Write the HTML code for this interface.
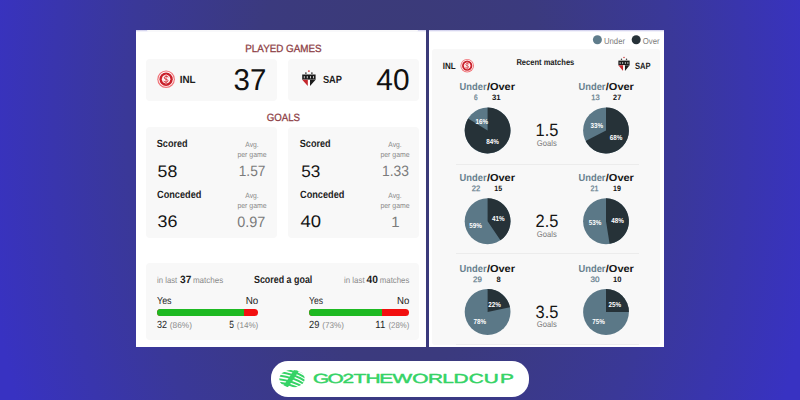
<!DOCTYPE html>
<html lang="en">
<head>
<meta charset="utf-8">
<title>Under/Over stats</title>
<style>
html,body{margin:0;padding:0}
body{width:800px;height:400px;overflow:hidden;position:relative;
 font-family:"Liberation Sans",sans-serif;
 background:radial-gradient(ellipse 420px 700px at 400px 120px,#3b3b76 0%,#3b3a7e 35%,#3a3898 65%,#3832c2 100%);}
.abs{position:absolute}
.panel{position:absolute;background:#fff}
.card{position:absolute;background:#f8f8f8;border-radius:4px}
.t{position:absolute;white-space:nowrap;line-height:1;transform-origin:0 50%;display:block}
.bar{position:absolute;height:7px;border-radius:3.5px;overflow:hidden;background:#f20f0f}
.bar i{display:block;height:100%;background:#1eb922}
.sep{position:absolute;height:1px;background:#ececec}
svg{position:absolute;left:0;top:0;overflow:visible}
</style>
</head>
<body>
<!-- left panel -->
<div class="panel" style="left:136px;top:30px;width:290px;height:317px"></div>
<div class="abs" style="left:136px;top:30px;width:290px;height:2px;background:linear-gradient(#c9c8ea,#fff)"></div>
<div class="card" style="left:147px;top:30px;width:271px;height:2px;border-radius:0 0 3px 3px;background:#f8f8fa"></div>
<div class="card" style="left:145.5px;top:59px;width:131px;height:41.5px"></div>
<div class="card" style="left:288.3px;top:59px;width:130.5px;height:41.5px"></div>
<div class="card" style="left:145.5px;top:127.3px;width:131px;height:110.5px"></div>
<div class="card" style="left:288.3px;top:127.3px;width:130.5px;height:110.5px"></div>
<div class="card" style="left:145.5px;top:263.4px;width:273.3px;height:76.4px"></div>
<div class="bar" style="left:157px;top:308.8px;width:101.3px"><i style="width:86.2%"></i></div>
<div class="bar" style="left:309px;top:308.8px;width:100.3px"><i style="width:72.6%"></i></div>

<!-- right panel -->
<div class="panel" style="left:429px;top:30px;width:235px;height:317px"></div>
<div class="abs" style="left:429px;top:30px;width:235px;height:2px;background:linear-gradient(#c9c8ea,#fff)"></div>
<div class="card" style="left:432.4px;top:48.8px;width:227.6px;height:296px;border-radius:3px;background:#f8f8f8"></div>
<div class="sep" style="left:456px;top:163.6px;width:183px"></div>
<div class="sep" style="left:456px;top:253.4px;width:183px"></div>
<div class="sep" style="left:456px;top:344px;width:183px"></div>

<!-- pill -->
<div class="abs" style="left:271px;top:361px;width:258px;height:36px;border-radius:17px;background:#fff"></div>

<svg width="800" height="400" viewBox="0 0 800 400">
 <!-- legend -->
 <circle cx="597.4" cy="39.8" r="4.5" fill="#5f7c8b"/>
 <circle cx="636.2" cy="39.8" r="4.5" fill="#263238"/>
 <circle cx="487.6" cy="130.5" r="22.9" fill="#5b7887"/><path d="M487.6 130.5L487.6 107.6A22.9 22.9 0 1 1 468.10 118.49Z" fill="#263238"/><circle cx="606.0" cy="130.5" r="22.9" fill="#5b7887"/><path d="M606.0 130.5L606.0 107.6A22.9 22.9 0 1 1 585.60 140.90Z" fill="#263238"/><circle cx="487.6" cy="221.25" r="22.9" fill="#5b7887"/><path d="M487.6 221.25L487.6 198.35A22.9 22.9 0 0 1 500.42 240.22Z" fill="#263238"/><circle cx="606.0" cy="221.25" r="22.9" fill="#5b7887"/><path d="M606.0 221.25L606.0 198.35A22.9 22.9 0 0 1 609.58 243.87Z" fill="#263238"/><circle cx="487.6" cy="312.0" r="22.9" fill="#5b7887"/><path d="M487.6 312.0L487.6 289.1A22.9 22.9 0 0 1 509.99 307.18Z" fill="#263238"/><circle cx="606.0" cy="312.0" r="22.9" fill="#5b7887"/><path d="M606.0 312.0L606.0 289.1A22.9 22.9 0 0 1 628.90 312.00Z" fill="#263238"/>
 <!-- INL logo big -->
 <g id="inl" transform="translate(166.1 79.2)">
  <circle r="8.8" fill="#f17479"/>
  <circle r="7.6" fill="#fff"/>
  <circle r="6.7" fill="#c91f2a"/>
  <circle r="4.1" fill="#fdf1f1"/>
  <path d="M2 -2.3C0.6 -3.5 -2 -3 -1.9 -1.3C-1.8 0.3 1.8 -0.3 1.9 1.5C2 3.1 -0.8 3.5 -2.2 2.3" fill="none" stroke="#d8323b" stroke-width="1" stroke-linecap="round"/>
  <path d="M0 -4.6V4.6" stroke="#d8323b" stroke-width="0.7"/>
  <path d="M-4.4 0L0 -5.2L4.4 0L0 5.2Z" fill="none" stroke="#fff" stroke-width="0.5" opacity="0.7"/>
 </g>
 <g transform="translate(467.2 65.7) scale(0.77)">
  <circle r="8.8" fill="#f17479"/>
  <circle r="7.6" fill="#fff"/>
  <circle r="6.7" fill="#c91f2a"/>
  <circle r="4.1" fill="#fdf1f1"/>
  <path d="M2 -2.3C0.6 -3.5 -2 -3 -1.9 -1.3C-1.8 0.3 1.8 -0.3 1.9 1.5C2 3.1 -0.8 3.5 -2.2 2.3" fill="none" stroke="#d8323b" stroke-width="1" stroke-linecap="round"/>
  <path d="M0 -4.6V4.6" stroke="#d8323b" stroke-width="0.7"/>
  <path d="M-4.4 0L0 -5.2L4.4 0L0 5.2Z" fill="none" stroke="#fff" stroke-width="0.5" opacity="0.7"/>
 </g>
 <!-- SAP logo big -->
 <g transform="translate(308.9 74.5)">
  <circle cx="0" cy="-3.4" r="0.9" fill="#d03a3a"/>
  <circle cx="-3" cy="-1.4" r="0.9" fill="#444"/>
  <circle cx="3" cy="-1.4" r="0.9" fill="#444"/>
  <path d="M-6.7 0H6.7V5.3H-6.7Z" fill="#1b1b1b"/>
  <path d="M-6.7 5.3H6.7L0 12.8Z" fill="#fff"/>
  <path d="M-6.7 5.3H-1.1V11.6Z" fill="#c4262c"/>
  <path d="M6.7 5.3H1.1V11.6Z" fill="#1b1b1b"/>
  <path d="M-4.6 1.6V3.8M-1.6 1.6V3.8M1.6 1.6V3.8M4.6 1.6V3.8" stroke="#ddd" stroke-width="0.9"/>
 </g>
 <g transform="translate(624 60.6) scale(0.84 0.9)">
  <circle cx="0" cy="-3.4" r="0.9" fill="#d03a3a"/>
  <circle cx="-3" cy="-1.4" r="0.9" fill="#444"/>
  <circle cx="3" cy="-1.4" r="0.9" fill="#444"/>
  <path d="M-6.7 0H6.7V5.3H-6.7Z" fill="#1b1b1b"/>
  <path d="M-6.7 5.3H6.7L0 12.8Z" fill="#fff"/>
  <path d="M-6.7 5.3H-1.1V11.6Z" fill="#c4262c"/>
  <path d="M6.7 5.3H1.1V11.6Z" fill="#1b1b1b"/>
  <path d="M-4.6 1.6V3.8M-1.6 1.6V3.8M1.6 1.6V3.8M4.6 1.6V3.8" stroke="#ddd" stroke-width="0.9"/>
 </g>
 <!-- globe -->
 <g transform="translate(292 378.7)">
  <clipPath id="gc"><ellipse cx="0" cy="0" rx="12.7" ry="8.9"/></clipPath>
  <g clip-path="url(#gc)" stroke="#35d366" fill="none">
   <g stroke-width="2">
   <path d="M-15 -24.9Q2 -23.5 15 -14.4"/>
   <path d="M-15 -21.3Q2 -19.9 15 -10.8"/>
   <path d="M-15 -17.7Q2 -16.3 15 -7.2"/>
   <path d="M-15 -14.1Q2 -12.7 15 -3.6"/>
   <path d="M-15 -10.5Q2 -9.1 15 0.0"/>
   <path d="M-15 -6.9Q2 -5.5 15 3.6"/>
   <path d="M-15 -3.3Q2 -1.9 15 7.2"/>
   <path d="M-15 0.3Q2 1.7 15 10.8"/>
   <path d="M-15 3.9Q2 5.3 15 14.4"/>
   </g>
   <path d="M5.5 -10Q0 -1 -8 10" stroke-width="4.6"/>
  </g>
 </g>
<g font-family='"Liberation Sans",sans-serif' text-rendering="geometricPrecision">
<text x="245.30" y="52.30" font-size="10.5" font-weight="400" fill="#8e3f47" textLength="76.30" lengthAdjust="spacingAndGlyphs" stroke="#8e3f47" stroke-width="0.3">PLAYED GAMES</text>
<text x="179.70" y="83.40" font-size="10.4" font-weight="700" fill="#1d1d1d" textLength="15.90" lengthAdjust="spacingAndGlyphs" >INL</text>
<text x="233.50" y="90.00" font-size="30" font-weight="400" fill="#111" textLength="32.80" lengthAdjust="spacingAndGlyphs" >37</text>
<text x="322.90" y="83.40" font-size="10.4" font-weight="700" fill="#1d1d1d" textLength="19.10" lengthAdjust="spacingAndGlyphs" >SAP</text>
<text x="376.30" y="90.00" font-size="30" font-weight="400" fill="#111" textLength="33.20" lengthAdjust="spacingAndGlyphs" >40</text>
<text x="266.70" y="120.50" font-size="10.5" font-weight="400" fill="#8e3f47" textLength="33.30" lengthAdjust="spacingAndGlyphs" stroke="#8e3f47" stroke-width="0.3">GOALS</text>
<text x="156.80" y="146.50" font-size="10.5" font-weight="700" fill="#1d1d1d" textLength="30.80" lengthAdjust="spacingAndGlyphs" >Scored</text>
<text x="245.30" y="146.90" font-size="7.6" font-weight="400" fill="#8a8a8a" textLength="13.30" lengthAdjust="spacingAndGlyphs" >Avg.</text>
<text x="237.40" y="157.30" font-size="7.6" font-weight="400" fill="#8a8a8a" textLength="29.20" lengthAdjust="spacingAndGlyphs" >per game</text>
<text x="157.60" y="176.70" font-size="16.8" font-weight="400" fill="#151515" textLength="19.70" lengthAdjust="spacingAndGlyphs" >58</text>
<text x="238.70" y="176.40" font-size="15.0" font-weight="400" fill="#7b7b7b" textLength="26.70" lengthAdjust="spacingAndGlyphs" >1.57</text>
<text x="157.00" y="198.00" font-size="10.5" font-weight="700" fill="#1d1d1d" textLength="44.40" lengthAdjust="spacingAndGlyphs" >Conceded</text>
<text x="245.30" y="198.00" font-size="7.6" font-weight="400" fill="#8a8a8a" textLength="13.30" lengthAdjust="spacingAndGlyphs" >Avg.</text>
<text x="237.40" y="208.30" font-size="7.6" font-weight="400" fill="#8a8a8a" textLength="29.20" lengthAdjust="spacingAndGlyphs" >per game</text>
<text x="157.60" y="227.30" font-size="16.8" font-weight="400" fill="#151515" textLength="19.90" lengthAdjust="spacingAndGlyphs" >36</text>
<text x="237.30" y="227.20" font-size="15.0" font-weight="400" fill="#7b7b7b" textLength="28.10" lengthAdjust="spacingAndGlyphs" >0.97</text>
<text x="299.80" y="146.50" font-size="10.5" font-weight="700" fill="#1d1d1d" textLength="30.80" lengthAdjust="spacingAndGlyphs" >Scored</text>
<text x="388.30" y="146.90" font-size="7.6" font-weight="400" fill="#8a8a8a" textLength="13.30" lengthAdjust="spacingAndGlyphs" >Avg.</text>
<text x="380.40" y="157.30" font-size="7.6" font-weight="400" fill="#8a8a8a" textLength="29.20" lengthAdjust="spacingAndGlyphs" >per game</text>
<text x="301.30" y="176.70" font-size="16.8" font-weight="400" fill="#151515" textLength="19.10" lengthAdjust="spacingAndGlyphs" >53</text>
<text x="382.00" y="176.40" font-size="15.0" font-weight="400" fill="#7b7b7b" textLength="27.00" lengthAdjust="spacingAndGlyphs" >1.33</text>
<text x="300.00" y="198.00" font-size="10.5" font-weight="700" fill="#1d1d1d" textLength="44.40" lengthAdjust="spacingAndGlyphs" >Conceded</text>
<text x="388.30" y="198.00" font-size="7.6" font-weight="400" fill="#8a8a8a" textLength="13.30" lengthAdjust="spacingAndGlyphs" >Avg.</text>
<text x="380.40" y="208.30" font-size="7.6" font-weight="400" fill="#8a8a8a" textLength="29.20" lengthAdjust="spacingAndGlyphs" >per game</text>
<text x="300.40" y="227.30" font-size="16.8" font-weight="400" fill="#151515" textLength="20.60" lengthAdjust="spacingAndGlyphs" >40</text>
<text x="395.40" y="227.20" font-size="15.0" font-weight="400" fill="#7b7b7b" text-anchor="middle">1</text>
<text x="157.00" y="282.60" font-size="8.6" font-weight="400" fill="#8a8a8a" textLength="20.20" lengthAdjust="spacingAndGlyphs" >in last</text>
<text x="180.00" y="282.70" font-size="10.6" font-weight="700" fill="#1d1d1d" textLength="11.30" lengthAdjust="spacingAndGlyphs" >37</text>
<text x="192.90" y="282.60" font-size="8.6" font-weight="400" fill="#8a8a8a" textLength="30.30" lengthAdjust="spacingAndGlyphs" >matches</text>
<text x="254.00" y="282.60" font-size="10.5" font-weight="700" fill="#1d1d1d" textLength="58.30" lengthAdjust="spacingAndGlyphs" >Scored a goal</text>
<text x="344.00" y="282.60" font-size="8.6" font-weight="400" fill="#8a8a8a" textLength="20.60" lengthAdjust="spacingAndGlyphs" >in last</text>
<text x="366.60" y="282.70" font-size="10.6" font-weight="700" fill="#1d1d1d" textLength="11.40" lengthAdjust="spacingAndGlyphs" >40</text>
<text x="379.80" y="282.60" font-size="8.6" font-weight="400" fill="#8a8a8a" textLength="29.50" lengthAdjust="spacingAndGlyphs" >matches</text>
<text x="157.00" y="303.60" font-size="10.2" font-weight="400" fill="#1d1d1d" textLength="14.60" lengthAdjust="spacingAndGlyphs" >Yes</text>
<text x="245.70" y="303.60" font-size="10.2" font-weight="400" fill="#1d1d1d" textLength="12.60" lengthAdjust="spacingAndGlyphs" >No</text>
<text x="309.00" y="303.60" font-size="10.2" font-weight="400" fill="#1d1d1d" textLength="14.00" lengthAdjust="spacingAndGlyphs" >Yes</text>
<text x="397.00" y="303.60" font-size="10.2" font-weight="400" fill="#1d1d1d" textLength="12.30" lengthAdjust="spacingAndGlyphs" >No</text>
<text x="157.00" y="328.00" font-size="10.4" font-weight="400" fill="#1d1d1d" textLength="10.00" lengthAdjust="spacingAndGlyphs" >32</text>
<text x="169.80" y="328.00" font-size="8.4" font-weight="400" fill="#8a8a8a" textLength="22.10" lengthAdjust="spacingAndGlyphs" >(86%)</text>
<text x="229.20" y="328.00" font-size="10.4" font-weight="400" fill="#1d1d1d" textLength="4.70" lengthAdjust="spacingAndGlyphs" >5</text>
<text x="236.70" y="328.00" font-size="8.4" font-weight="400" fill="#8a8a8a" textLength="21.60" lengthAdjust="spacingAndGlyphs" >(14%)</text>
<text x="309.00" y="328.00" font-size="10.4" font-weight="400" fill="#1d1d1d" textLength="10.30" lengthAdjust="spacingAndGlyphs" >29</text>
<text x="322.30" y="328.00" font-size="8.4" font-weight="400" fill="#8a8a8a" textLength="21.70" lengthAdjust="spacingAndGlyphs" >(73%)</text>
<text x="375.30" y="328.00" font-size="10.4" font-weight="400" fill="#1d1d1d" textLength="10.00" lengthAdjust="spacingAndGlyphs" >11</text>
<text x="388.50" y="328.00" font-size="8.4" font-weight="400" fill="#8a8a8a" textLength="20.80" lengthAdjust="spacingAndGlyphs" >(28%)</text>
<text x="604.00" y="44.00" font-size="8.6" font-weight="400" fill="#7b7b7b" textLength="21.00" lengthAdjust="spacingAndGlyphs" >Under</text>
<text x="642.80" y="44.00" font-size="8.6" font-weight="400" fill="#7b7b7b" textLength="16.80" lengthAdjust="spacingAndGlyphs" >Over</text>
<text x="442.80" y="68.90" font-size="9.2" font-weight="700" fill="#1d1d1d" textLength="12.90" lengthAdjust="spacingAndGlyphs" >INL</text>
<text x="516.40" y="64.60" font-size="8.5" font-weight="700" fill="#1d1d1d" textLength="57.90" lengthAdjust="spacingAndGlyphs" >Recent matches</text>
<text x="634.90" y="68.90" font-size="9.2" font-weight="700" fill="#1d1d1d" textLength="15.70" lengthAdjust="spacingAndGlyphs" >SAP</text>
<text x="459.60" y="90.40" font-size="10.2" font-weight="700" fill="#67808e" textLength="27.00" lengthAdjust="spacingAndGlyphs" >Under</text>
<text x="486.90" y="90.40" font-size="10.2" font-weight="700" fill="#141414" textLength="28.10" lengthAdjust="spacingAndGlyphs" >/Over</text>
<text x="578.50" y="90.40" font-size="10.2" font-weight="700" fill="#67808e" textLength="27.00" lengthAdjust="spacingAndGlyphs" >Under</text>
<text x="605.80" y="90.40" font-size="10.2" font-weight="700" fill="#141414" textLength="28.10" lengthAdjust="spacingAndGlyphs" >/Over</text>
<text x="474.00" y="100.20" font-size="7.8" font-weight="400" fill="#67808e" textLength="3.60" lengthAdjust="spacingAndGlyphs" stroke="#67808e" stroke-width="0.25">6</text>
<text x="492.00" y="100.20" font-size="7.8" font-weight="700" fill="#141414" textLength="8.70" lengthAdjust="spacingAndGlyphs" >31</text>
<text x="591.20" y="100.20" font-size="7.8" font-weight="400" fill="#67808e" textLength="8.40" lengthAdjust="spacingAndGlyphs" stroke="#67808e" stroke-width="0.25">13</text>
<text x="613.10" y="100.20" font-size="7.8" font-weight="700" fill="#141414" textLength="8.10" lengthAdjust="spacingAndGlyphs" >27</text>
<text x="535.60" y="136.00" font-size="17.8" font-weight="400" fill="#151515" textLength="22.80" lengthAdjust="spacingAndGlyphs" >1.5</text>
<text x="536.80" y="145.80" font-size="8.4" font-weight="400" fill="#7b7b7b" textLength="19.90" lengthAdjust="spacingAndGlyphs" >Goals</text>
<text x="459.60" y="181.20" font-size="10.2" font-weight="700" fill="#67808e" textLength="27.00" lengthAdjust="spacingAndGlyphs" >Under</text>
<text x="486.90" y="181.20" font-size="10.2" font-weight="700" fill="#141414" textLength="28.10" lengthAdjust="spacingAndGlyphs" >/Over</text>
<text x="578.50" y="181.20" font-size="10.2" font-weight="700" fill="#67808e" textLength="27.00" lengthAdjust="spacingAndGlyphs" >Under</text>
<text x="605.80" y="181.20" font-size="10.2" font-weight="700" fill="#141414" textLength="28.10" lengthAdjust="spacingAndGlyphs" >/Over</text>
<text x="471.80" y="191.00" font-size="7.8" font-weight="400" fill="#67808e" textLength="8.50" lengthAdjust="spacingAndGlyphs" stroke="#67808e" stroke-width="0.25">22</text>
<text x="494.30" y="191.00" font-size="7.8" font-weight="700" fill="#141414" textLength="7.80" lengthAdjust="spacingAndGlyphs" >15</text>
<text x="590.60" y="191.00" font-size="7.8" font-weight="400" fill="#67808e" textLength="7.90" lengthAdjust="spacingAndGlyphs" stroke="#67808e" stroke-width="0.25">21</text>
<text x="613.10" y="191.00" font-size="7.8" font-weight="700" fill="#141414" textLength="7.90" lengthAdjust="spacingAndGlyphs" >19</text>
<text x="535.60" y="226.80" font-size="17.8" font-weight="400" fill="#151515" textLength="22.80" lengthAdjust="spacingAndGlyphs" >2.5</text>
<text x="536.80" y="236.60" font-size="8.4" font-weight="400" fill="#7b7b7b" textLength="19.90" lengthAdjust="spacingAndGlyphs" >Goals</text>
<text x="459.60" y="272.00" font-size="10.2" font-weight="700" fill="#67808e" textLength="27.00" lengthAdjust="spacingAndGlyphs" >Under</text>
<text x="486.90" y="272.00" font-size="10.2" font-weight="700" fill="#141414" textLength="28.10" lengthAdjust="spacingAndGlyphs" >/Over</text>
<text x="578.50" y="272.00" font-size="10.2" font-weight="700" fill="#67808e" textLength="27.00" lengthAdjust="spacingAndGlyphs" >Under</text>
<text x="605.80" y="272.00" font-size="10.2" font-weight="700" fill="#141414" textLength="28.10" lengthAdjust="spacingAndGlyphs" >/Over</text>
<text x="473.00" y="281.80" font-size="7.8" font-weight="400" fill="#67808e" textLength="8.80" lengthAdjust="spacingAndGlyphs" stroke="#67808e" stroke-width="0.25">29</text>
<text x="496.60" y="281.80" font-size="7.8" font-weight="700" fill="#141414" textLength="4.20" lengthAdjust="spacingAndGlyphs" >8</text>
<text x="590.60" y="281.80" font-size="7.8" font-weight="400" fill="#67808e" textLength="9.00" lengthAdjust="spacingAndGlyphs" stroke="#67808e" stroke-width="0.25">30</text>
<text x="613.10" y="281.80" font-size="7.8" font-weight="700" fill="#141414" textLength="8.40" lengthAdjust="spacingAndGlyphs" >10</text>
<text x="535.60" y="317.60" font-size="17.8" font-weight="400" fill="#151515" textLength="22.80" lengthAdjust="spacingAndGlyphs" >3.5</text>
<text x="536.80" y="327.40" font-size="8.4" font-weight="400" fill="#7b7b7b" textLength="19.90" lengthAdjust="spacingAndGlyphs" >Goals</text>
<text x="475.40" y="124.40" font-size="7.2" font-weight="700" fill="#fff" textLength="12.60" lengthAdjust="spacingAndGlyphs" >16%</text>
<text x="486.20" y="144.30" font-size="7.2" font-weight="700" fill="#fff" textLength="12.60" lengthAdjust="spacingAndGlyphs" >84%</text>
<text x="590.40" y="128.00" font-size="7.2" font-weight="700" fill="#fff" textLength="12.60" lengthAdjust="spacingAndGlyphs" >33%</text>
<text x="609.70" y="139.70" font-size="7.2" font-weight="700" fill="#fff" textLength="12.60" lengthAdjust="spacingAndGlyphs" >68%</text>
<text x="469.30" y="227.60" font-size="7.2" font-weight="700" fill="#fff" textLength="12.60" lengthAdjust="spacingAndGlyphs" >59%</text>
<text x="491.90" y="220.80" font-size="7.2" font-weight="700" fill="#fff" textLength="12.60" lengthAdjust="spacingAndGlyphs" >41%</text>
<text x="588.80" y="224.50" font-size="7.2" font-weight="700" fill="#fff" textLength="12.60" lengthAdjust="spacingAndGlyphs" >53%</text>
<text x="611.30" y="223.40" font-size="7.2" font-weight="700" fill="#fff" textLength="12.60" lengthAdjust="spacingAndGlyphs" >48%</text>
<text x="473.60" y="324.30" font-size="7.2" font-weight="700" fill="#fff" textLength="12.60" lengthAdjust="spacingAndGlyphs" >78%</text>
<text x="488.20" y="307.20" font-size="7.2" font-weight="700" fill="#fff" textLength="12.60" lengthAdjust="spacingAndGlyphs" >22%</text>
<text x="592.20" y="324.10" font-size="7.2" font-weight="700" fill="#fff" textLength="12.60" lengthAdjust="spacingAndGlyphs" >75%</text>
<text x="608.40" y="307.10" font-size="7.2" font-weight="700" fill="#fff" textLength="12.60" lengthAdjust="spacingAndGlyphs" >25%</text>
<g transform="scale(1.58 1)"><text x="198.11 207.21 216.84 223.74 231.31 239.96 248.35 260.85 270.85 279.88 287.10 296.73 306.21 316.42" y="382.9" font-size="13.2" fill="#35d366" stroke="#35d366" stroke-width="0.45" stroke-linejoin="round">GO2THEWORLDCUP</text></g>
</g>
</svg>
</body>
</html>
